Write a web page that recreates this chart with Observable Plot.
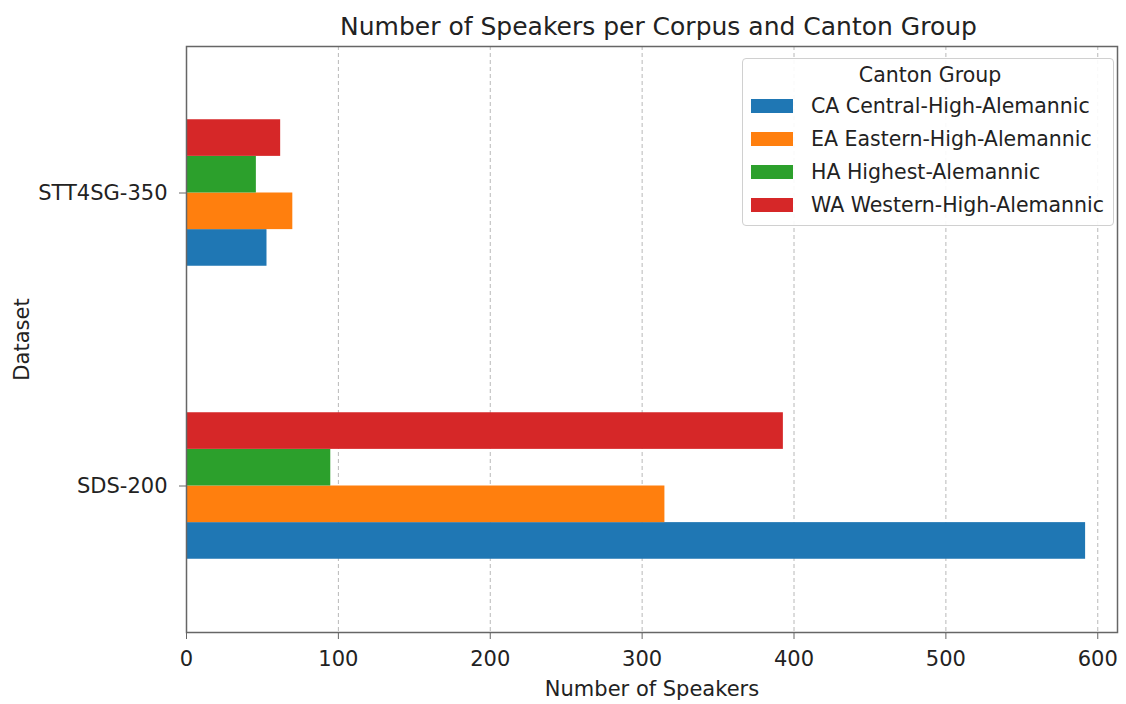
<!DOCTYPE html>
<html>
<head>
<meta charset="utf-8">
<script src="https://cdn.jsdelivr.net/npm/d3@7"></script>
<script src="https://cdn.jsdelivr.net/npm/@observablehq/plot@0.6"></script>
<style>
  body { margin: 0; background: #fff; font-family: "DejaVu Sans", sans-serif; }
  #fig { position: relative; width: 1126px; height: 704px; }
  #title { height: 40px; box-sizing: border-box; padding: 13px 9px 0 200px; text-align: center; font-size: 25px; color: #222; line-height: 28px; }
  #legend { position: absolute; left: 742px; top: 58px; width: 372px; box-sizing: border-box; background: rgba(255,255,255,0.9); border: 1px solid #d0d0d0; border-radius: 4px; padding: 3px 4px 4px 8px; font-size: 20.5px; color: #222; white-space: nowrap; }
  #legend .lt { text-align: center; margin-bottom: 0; height: 27px; line-height: 27px; }
  #legend .row { display: flex; align-items: center; height: 33px; }
  #legend .sw { width: 42px; height: 14px; margin-right: 18px; flex: none; }
</style>
</head>
<body>
<div id="fig">
  <div id="title">Number of Speakers per Corpus and Canton Group</div>
  <div id="chart"></div>
  <div id="legend"></div>
</div>
<script>
const datasets = ["SDS-200", "STT4SG-350"];
const groups = ["CA Central-High-Alemannic", "EA Eastern-High-Alemannic", "HA Highest-Alemannic", "WA Western-High-Alemannic"];
const valuesCA = [592, 53];
const valuesEA = [315, 70];
const valuesHA = [95, 46];
const valuesWA = [393, 62];
const xTicks = [0, 100, 200, 300, 400, 500, 600];
const colors = ["#1f77b4", "#ff7f0e", "#2ca02c", "#d62728"];

const series = [valuesCA, valuesEA, valuesHA, valuesWA];
const rows = [];
series.forEach((vals, gi) => vals.forEach((v, di) => rows.push({dataset: datasets[di], di, group: groups[gi], gi, value: v})));

const barW = 0.5 / groups.length;

const chart = Plot.plot({
  width: 1126,
  height: 664,
  marginTop: 6,
  marginLeft: 186,
  marginRight: 9,
  marginBottom: 72,
  style: {fontFamily: "DejaVu Sans, sans-serif", fontSize: "21px", color: "#222", background: "#fff"},
  x: {domain: [0, 613]},
  y: {domain: [-0.5, 1.5]},
  color: {domain: groups, range: colors},
  marks: [
    Plot.gridX(xTicks.filter(t => t > 0), {stroke: "#b8b8b8", strokeOpacity: 1, strokeDasharray: "4,3", strokeWidth: 1}),
    Plot.rect(rows, {
      x1: d => 0,
      x2: "value",
      y1: d => d.di + (d.gi - 2) * barW,
      y2: d => d.di + (d.gi - 1) * barW,
      fill: "group"
    }),
    Plot.frame({stroke: "#666", strokeWidth: 1.5}),
    Plot.axisX(xTicks, {tickSize: 7, tickPadding: 12, stroke: "#666", label: "Number of Speakers", labelAnchor: "center", labelArrow: "none", labelOffset: 63}),
    Plot.axisY([0, 1], {tickSize: 7, tickPadding: 12, stroke: "#666", tickFormat: i => datasets[i], label: "Dataset", labelAnchor: "center", labelArrow: "none", labelOffset: 172})
  ]
});
document.getElementById("chart").appendChild(chart);

const legend = document.getElementById("legend");
legend.innerHTML = '<div class="lt">Canton Group</div>' +
  groups.map((g, i) => `<div class="row"><div class="sw" style="background:${colors[i]}"></div><div>${g}</div></div>`).join("");
</script>
</body>
</html>
